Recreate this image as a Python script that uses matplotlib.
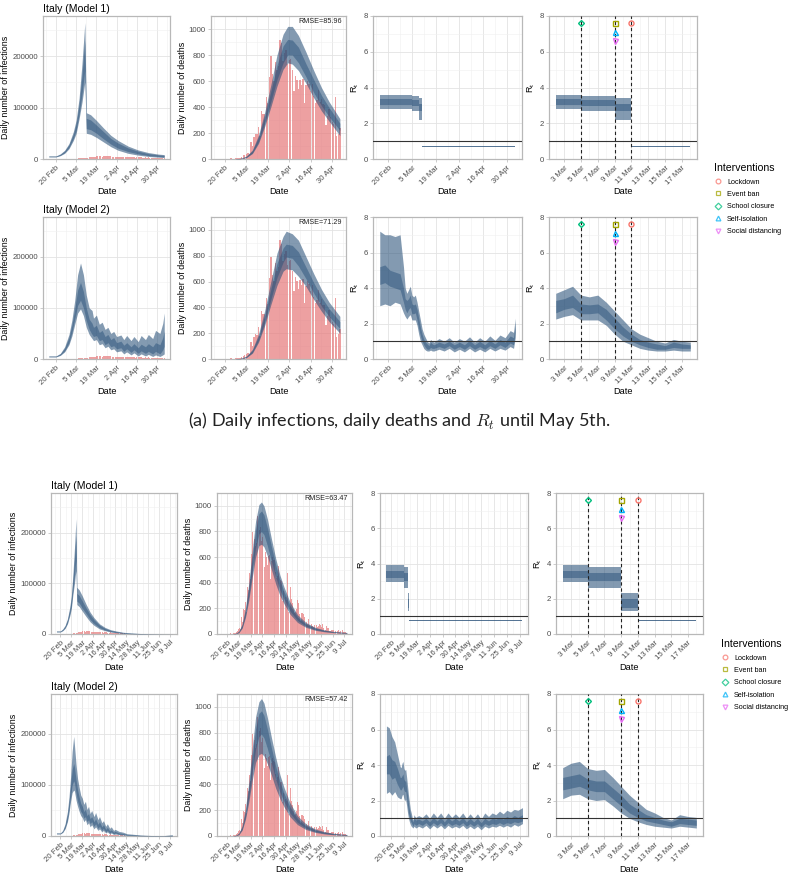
import numpy as np
import matplotlib
matplotlib.use("Agg")
import matplotlib.pyplot as plt
from matplotlib.lines import Line2D

plt.rcParams["font.family"] = ["Liberation Sans", "DejaVu Sans"]
plt.rcParams["mathtext.fontset"] = "cm"

W, H = 794, 873
BASE = np.datetime64("2020-02-15")

# ---------------- observed data (Italy) ----------------
OBS_START = "02-21"
CASES = [17, 62, 77, 74, 93, 131, 202, 233, 240,
         566, 342, 466, 587, 769, 778, 1247, 1492, 1797, 977, 2313, 2651, 2547, 3497, 3590, 3233,
         3526, 4207, 5322, 5986, 6557, 5560, 4789, 5249, 5210, 6153, 5959, 5974, 5217, 4050, 4053,
         4782, 4668, 4585, 4805, 4316, 3599, 3039, 3836, 4204, 3951, 4694, 4092, 3153, 2972, 2667,
         3786, 3493, 3491, 3047, 2256, 2729, 3370, 2646, 3021, 2357, 2324, 1739, 2091, 2086, 1872,
         1965, 1900, 1389, 1221, 1075, 1444, 1401, 1327, 1083, 802, 744, 1402, 888, 992, 789,
         875, 675, 451, 813, 665, 642, 652, 669, 531, 300, 397, 584, 593, 516, 416, 355,
         178, 318, 321, 177, 518, 270, 197, 280, 283, 202, 379, 163, 346, 338, 301,
         210, 329, 333, 251, 262, 224, 218, 122, 190, 296, 259, 175, 174, 126, 142,
         187, 201, 223, 235, 192, 208, 138, 193, 229, 276, 188, 234]
DEATHS = [1, 1, 1, 4, 3, 2, 5, 4, 8,
          5, 18, 27, 28, 41, 49, 36, 133, 97, 168, 196, 189, 250, 175, 368, 349,
          345, 475, 427, 627, 793, 651, 601, 743, 683, 712, 919, 889, 756, 812, 837,
          727, 760, 766, 681, 525, 636, 604, 542, 610, 570, 619, 431, 566, 602, 578,
          525, 575, 482, 433, 454, 534, 437, 464, 420, 415, 260, 333, 382, 323, 285,
          269, 474, 174, 195, 236, 369, 274, 243, 194, 165, 179, 172, 195, 262, 242,
          153, 145, 99, 162, 161, 156, 130, 119, 50, 92, 78, 117, 70, 87, 111, 75,
          60, 55, 71, 88, 85, 72, 53, 65, 79, 71, 53, 56, 78, 44, 26,
          34, 43, 66, 47, 49, 24, 23, 18, 30, 34, 30, 8, 24, 7, 23,
          21, 30, 15, 21, 7, 8, 30, 15, 12, 12, 7, 7]

# ---------------- block (a): fit until May 5 ----------------
# infections, model 1 (thousands)
INF1A_DATES = ["02-15", "02-20", "02-23", "02-26", "02-29", "03-03", "03-05", "03-07", "03-09",
               "03-10", "03-11", "03-12", "03-15", "03-19", "03-24", "03-29", "04-03", "04-10",
               "04-17", "04-24", "05-01", "05-05"]
INF1A_LO80 = [4, 4, 6.5, 11, 20, 36, 50, 78, 110, 130, 150, 50, 48, 42, 33, 24, 17, 11, 7.5, 5, 3.5, 2.8]
INF1A_LO50 = [4.5, 4.5, 7.2, 12.5, 22.5, 40, 56, 86, 125, 150, 172, 59, 57, 50, 39, 29, 21, 14.5, 10, 6.7, 5, 4.2]
INF1A_HI50 = [5.5, 5.5, 9, 15.5, 27.5, 48, 69, 106, 162, 197, 230, 79, 76, 66, 53, 40, 31, 21.5, 15, 10.5, 8, 7]
INF1A_HI80 = [6, 6, 10, 17, 30, 53, 76, 118, 185, 225, 265, 90, 86, 75, 60, 46, 36, 25, 17.5, 12.5, 9.5, 8.5]

# infections, model 2 (thousands)
INF2A_DATES = ["02-15", "02-20", "02-23", "02-26", "02-29", "03-02", "03-04", "03-06", "03-08",
               "03-10", "03-12", "03-14", "03-16", "03-17", "03-19", "03-21", "03-23", "03-25",
               "03-27", "03-29", "03-31", "04-02", "04-05", "04-07", "04-09", "04-12", "04-14",
               "04-17", "04-19", "04-22", "04-24", "04-27", "04-29", "05-02", "05-04", "05-05"]
INF2A_LO80 = [4, 4, 7, 14, 28, 45, 68, 90, 98, 85, 62, 48, 40, 36, 38, 28, 30, 22, 25, 18, 20,
              14, 16, 10, 14, 8, 12, 6, 10, 6, 9, 5, 8, 5, 8, 10]
INF2A_LO50 = [4.5, 4.5, 8, 16, 32, 52, 78, 105, 115, 100, 75, 58, 48, 44, 46, 36, 38, 28, 32, 24,
              26, 20, 22, 15, 20, 13, 18, 11, 16, 11, 15, 10, 15, 10, 18, 25]
INF2A_HI50 = [5.5, 5.5, 10, 21, 42, 66, 98, 135, 150, 132, 100, 78, 70, 62, 66, 52, 56, 44, 48,
              38, 42, 32, 35, 27, 32, 24, 30, 22, 29, 24, 30, 24, 32, 28, 42, 55]
INF2A_HI80 = [6, 6, 11, 24, 48, 76, 115, 165, 188, 165, 125, 100, 95, 80, 86, 68, 72, 58, 62, 50,
              54, 44, 47, 38, 46, 36, 44, 34, 46, 38, 48, 40, 56, 50, 70, 90]

# deaths, model 1
DTH1A_DATES = ["02-27", "03-01", "03-05", "03-09", "03-13", "03-17", "03-21", "03-25", "03-29",
               "04-01", "04-04", "04-08", "04-13", "04-18", "04-23", "04-28", "05-05"]
DTH1A_LO80 = [0.5, 2, 10, 42, 120, 250, 400, 560, 690, 740, 730, 680, 580, 470, 370, 290, 180]
DTH1A_LO50 = [0.8, 2.5, 12, 48, 133, 275, 440, 610, 740, 800, 800, 740, 630, 510, 410, 325, 220]
DTH1A_HI50 = [1.5, 4, 18, 62, 168, 330, 520, 720, 870, 920, 915, 860, 730, 610, 490, 395, 275]
DTH1A_HI80 = [2, 5, 22, 70, 185, 360, 570, 800, 960, 1020, 1020, 950, 820, 680, 550, 440, 310]

# deaths, model 2
DTH2A_DATES = ["02-27", "03-01", "03-05", "03-09", "03-13", "03-17", "03-21", "03-25", "03-29",
               "03-31", "04-04", "04-08", "04-13", "04-18", "04-23", "04-28", "05-05"]
DTH2A_LO80 = [0.5, 2, 10, 45, 130, 260, 420, 570, 680, 700, 690, 640, 560, 460, 370, 290, 200]
DTH2A_LO50 = [0.8, 2.5, 12, 52, 145, 285, 460, 630, 750, 790, 780, 720, 620, 510, 410, 330, 235]
DTH2A_HI50 = [1.5, 4, 18, 66, 175, 340, 540, 740, 860, 890, 880, 830, 710, 590, 480, 390, 290]
DTH2A_HI80 = [2, 5, 22, 75, 195, 375, 600, 820, 950, 990, 970, 920, 790, 660, 540, 440, 330]

# R_t, model 1 (piecewise constant)
RT1A_DATES = ["02-15", "03-02", "03-05", "03-09", "03-11", "03-18", "05-05"]
RT1A_LO80 = [2.8, 2.8, 2.7, 2.2, 0.66, 0.66, 0.66]
RT1A_LO50 = [3.0, 3.0, 2.95, 2.7, 0.68, 0.68, 0.68]
RT1A_HI50 = [3.35, 3.35, 3.3, 3.1, 0.72, 0.72, 0.72]
RT1A_HI80 = [3.6, 3.6, 3.5, 3.4, 0.74, 0.74, 0.74]

# R_t, model 2
RT2A_DATES = ["02-15", "02-18", "02-21", "02-24", "02-27", "02-29", "03-01",
              "03-02", "03-03", "03-04", "03-05", "03-06", "03-07", "03-08", "03-09", "03-10",
              "03-11", "03-12", "03-13", "03-14", "03-15", "03-16", "03-17", "03-18",
              "03-21", "03-24", "03-27", "03-30", "04-02", "04-05", "04-08", "04-11", "04-14",
              "04-17", "04-20", "04-23", "04-26", "04-29", "05-02", "05-04", "05-05"]
RT2A_LO80 = [3.0, 3.1, 3.0, 3.2, 3.1, 2.6, 2.4,
             2.25, 2.4, 2.5, 2.2, 2.2, 2.2, 1.9, 1.4, 1.0, 0.8, 0.6, 0.5, 0.45, 0.45, 0.5, 0.45, 0.45,
             0.55, 0.45, 0.6, 0.4, 0.55, 0.4, 0.6, 0.4, 0.55, 0.4, 0.6, 0.45, 0.6, 0.5, 0.7, 0.6, 1.2]
RT2A_LO50 = [4.2, 4.3, 4.1, 4.0, 3.9, 3.2, 2.8,
             2.6, 2.8, 2.9, 2.55, 2.55, 2.6, 2.2, 1.7, 1.3, 1.0, 0.8, 0.65, 0.55, 0.55, 0.65, 0.6, 0.6,
             0.7, 0.6, 0.75, 0.55, 0.7, 0.55, 0.75, 0.55, 0.7, 0.55, 0.75, 0.6, 0.8, 0.65, 0.9, 0.8, 1.5]
RT2A_HI50 = [5.2, 5.3, 5.0, 4.9, 4.8, 4.0, 3.4,
             3.3, 3.4, 3.6, 3.1, 3.05, 3.1, 2.8, 2.3, 1.8, 1.4, 1.1, 0.95, 0.85, 0.75, 0.95, 0.85, 0.8,
             0.95, 0.85, 1.0, 0.8, 0.95, 0.8, 1.05, 0.8, 1.0, 0.8, 1.05, 0.85, 1.1, 0.95, 1.3, 1.2, 2.0]
RT2A_HI80 = [7.2, 7.0, 7.0, 6.9, 7.0, 5.2, 4.0,
             3.7, 3.9, 4.1, 3.6, 3.5, 3.6, 3.2, 2.7, 2.2, 1.7, 1.4, 1.2, 1.0, 0.9, 1.1, 1.0, 0.95,
             1.15, 1.0, 1.2, 0.95, 1.15, 1.0, 1.25, 0.95, 1.2, 1.0, 1.3, 1.05, 1.35, 1.2, 1.6, 1.5, 2.3]

# ---------------- block (b): fit until July ----------------
INF1B_DATES = ["02-15", "02-20", "02-23", "02-26", "02-29", "03-03", "03-05", "03-07", "03-09",
               "03-10", "03-11", "03-12", "03-15", "03-19", "03-24", "03-29", "04-03", "04-10",
               "04-17", "04-24", "05-01", "05-10", "05-20", "06-01", "06-15", "07-01", "07-12"]
INF1B_LO80 = [4, 4, 6.5, 11, 20, 36, 50, 78, 100, 115, 125, 58, 54, 45, 34, 24, 17, 10, 6.5, 4, 2.5,
              1.3, 0.6, 0.3, 0.1, 0.05, 0.02]
INF1B_LO50 = [4.5, 4.5, 7.2, 12.5, 22.5, 40, 56, 86, 115, 133, 145, 65, 61, 51, 40, 28.5, 20.5, 12.5,
              8, 5, 3.2, 1.7, 0.9, 0.45, 0.18, 0.07, 0.03]
INF1B_HI50 = [5.5, 5.5, 9, 15.5, 27.5, 48, 69, 106, 150, 175, 195, 80, 76, 65, 51, 38, 28, 17.5,
              11, 7.2, 5, 2.8, 1.6, 0.8, 0.35, 0.14, 0.07]
INF1B_HI80 = [6, 6, 10, 17, 30, 53, 76, 118, 170, 200, 227, 92, 87, 75, 58, 43, 32, 20, 13, 8.5, 6,
              3.5, 2, 1, 0.5, 0.2, 0.1]

INF2B_DATES = ["02-15", "02-20", "02-23", "02-26", "02-29", "03-02", "03-04", "03-06", "03-08",
               "03-09", "03-11", "03-13", "03-15", "03-17", "03-19", "03-21", "03-23", "03-25",
               "03-27", "03-29", "03-31", "04-03", "04-05", "04-08", "04-10", "04-13", "04-15",
               "04-18", "04-20", "04-23", "04-25", "04-28", "04-30", "05-05", "05-10", "05-15",
               "05-22", "06-01", "06-15", "07-01", "07-12"]
INF2B_LO80 = [4, 4, 7, 14, 28, 45, 68, 85, 90, 88, 70, 58, 48, 40, 36, 28, 32, 22, 26, 18, 22, 14,
              18, 11, 14, 8, 11, 6, 8, 4, 6, 3, 4, 2.5, 2, 1.2, 0.8, 0.4, 0.2, 0.1, 0.2]
INF2B_LO50 = [4.5, 4.5, 8, 16, 32, 52, 78, 100, 108, 104, 84, 68, 58, 48, 44, 35, 38, 28, 32, 24,
              28, 19, 24, 15, 19, 11, 15, 8, 11, 6, 8, 4.5, 6, 3.5, 3, 1.8, 1.2, 0.7, 0.3, 0.2, 0.5]
INF2B_HI50 = [5.5, 5.5, 10, 21, 42, 66, 98, 130, 142, 135, 110, 90, 76, 64, 58, 48, 52, 40, 44, 34,
              38, 28, 34, 23, 28, 18, 22, 13, 17, 10, 12, 7.5, 9, 6, 5, 3, 2.2, 1.2, 0.6, 0.4, 1.2]
INF2B_HI80 = [6, 6, 11, 24, 48, 76, 115, 165, 195, 178, 140, 112, 95, 80, 74, 62, 68, 52, 58, 44,
              50, 38, 46, 32, 38, 26, 30, 19, 24, 15, 18, 11, 13, 9, 7.5, 4.5, 3.5, 2, 1, 0.8, 2.5]

DTH1B_DATES = ["02-27", "03-01", "03-05", "03-09", "03-13", "03-17", "03-21", "03-25", "03-29",
               "04-01", "04-04", "04-08", "04-13", "04-18", "04-23", "04-28", "05-05", "05-14",
               "05-24", "06-04", "06-15", "06-25", "07-05", "07-12"]
DTH1B_LO80 = [0.5, 2, 10, 45, 130, 265, 440, 600, 690, 700, 680, 610, 500, 390, 300, 235, 155, 90,
              52, 29, 17, 11, 7, 5.5]
DTH1B_LO50 = [0.8, 2.5, 12, 52, 148, 298, 490, 670, 780, 800, 775, 690, 565, 445, 345, 270, 180,
              106, 61, 35, 21, 14, 9, 7]
DTH1B_HI50 = [1.5, 4, 18, 68, 185, 365, 595, 810, 940, 960, 930, 830, 680, 540, 420, 330, 222, 133,
              79, 46, 28, 18.5, 13, 10]
DTH1B_HI80 = [2, 5, 22, 78, 205, 400, 650, 880, 1010, 1030, 1000, 900, 740, 590, 460, 365, 250,
              150, 90, 52, 32, 21, 15, 12]

DTH2B_DATES = ["02-27", "03-01", "03-05", "03-09", "03-13", "03-17", "03-21", "03-25", "03-29",
               "04-01", "04-04", "04-08", "04-13", "04-18", "04-23", "04-28", "05-05", "05-14",
               "05-24", "06-04", "06-15", "06-25", "07-05", "07-12"]
DTH2B_LO80 = [0.5, 2, 10, 45, 130, 265, 430, 570, 630, 640, 620, 560, 470, 370, 290, 225, 150, 88,
              50, 28, 16, 10, 6.5, 5]
DTH2B_LO50 = [0.8, 2.5, 12, 52, 150, 305, 500, 670, 770, 790, 760, 680, 560, 440, 340, 265, 178,
              105, 60, 34, 20, 13, 8.5, 6.5]
DTH2B_HI50 = [1.5, 4, 18, 68, 190, 375, 610, 830, 950, 970, 935, 830, 680, 540, 420, 330, 225, 135,
              80, 47, 29, 19, 13, 10]
DTH2B_HI80 = [2, 5, 22, 80, 215, 420, 680, 920, 1040, 1065, 1030, 920, 760, 610, 475, 375, 258, 156,
              94, 55, 34, 22, 15, 12]

RT1B_DATES = ["02-15", "03-02", "03-05", "03-09", "03-11", "03-18", "07-12"]
RT1B_LO80 = [2.95, 2.95, 2.6, 1.3, 0.72, 0.72, 0.72]
RT1B_LO50 = [3.2, 3.2, 3.0, 1.5, 0.74, 0.74, 0.74]
RT1B_HI50 = [3.6, 3.6, 3.45, 2.0, 0.78, 0.78, 0.78]
RT1B_HI80 = [3.9, 3.9, 3.8, 2.3, 0.8, 0.8, 0.8]

RT2B_DATES = ["02-15", "02-18", "02-21", "02-24", "02-27", "03-01",
              "03-02", "03-03", "03-04", "03-05", "03-06", "03-07", "03-08", "03-09", "03-10",
              "03-11", "03-12", "03-13", "03-14", "03-15", "03-16", "03-17", "03-18",
              "03-21", "03-25", "03-29", "04-02", "04-06", "04-10", "04-14", "04-18", "04-22",
              "04-26", "04-30", "05-04", "05-08", "05-12", "05-16", "05-20", "05-24", "05-28",
              "06-01", "06-05", "06-09", "06-13", "06-17", "06-21", "06-25", "06-29", "07-03",
              "07-07", "07-12"]
RT2B_LO80 = [2.4, 2.5, 2.3, 2.5, 2.2, 2.1,
             2.1, 2.3, 2.35, 2.1, 2.0, 2.05, 1.7, 1.3, 1.0, 0.8, 0.65, 0.55, 0.5, 0.45, 0.55, 0.5, 0.45,
             0.55, 0.45, 0.6, 0.4, 0.6, 0.45, 0.6, 0.4, 0.6, 0.45, 0.55, 0.45, 0.6, 0.4, 0.55, 0.4,
             0.55, 0.35, 0.55, 0.45, 0.55, 0.5, 0.6, 0.5, 0.6, 0.5, 0.65, 0.55, 0.7]
RT2B_LO50 = [3.5, 3.5, 3.2, 3.3, 2.9, 2.6,
             2.6, 2.7, 2.8, 2.6, 2.5, 2.5, 2.1, 1.7, 1.3, 1.05, 0.85, 0.75, 0.65, 0.55, 0.7, 0.65, 0.6,
             0.7, 0.6, 0.75, 0.55, 0.75, 0.6, 0.75, 0.55, 0.75, 0.6, 0.7, 0.6, 0.75, 0.55, 0.7, 0.55,
             0.7, 0.5, 0.7, 0.6, 0.7, 0.65, 0.75, 0.65, 0.75, 0.7, 0.8, 0.75, 0.85]
RT2B_HI50 = [4.5, 4.6, 4.3, 4.2, 3.8, 3.3,
             3.3, 3.4, 3.5, 3.2, 3.1, 3.1, 2.7, 2.3, 1.8, 1.5, 1.2, 1.05, 0.9, 0.8, 1.0, 0.95, 0.9,
             0.95, 0.85, 1.0, 0.8, 1.05, 0.85, 1.05, 0.8, 1.05, 0.85, 1.0, 0.85, 1.05, 0.8, 1.0, 0.8,
             1.0, 0.75, 1.0, 0.85, 1.0, 0.95, 1.05, 0.95, 1.1, 1.0, 1.15, 1.05, 1.2]
RT2B_HI80 = [6.2, 6.1, 5.6, 5.3, 4.6, 3.9,
             3.85, 4.1, 4.2, 3.8, 3.7, 3.75, 3.3, 2.8, 2.3, 1.9, 1.5, 1.3, 1.05, 0.9, 1.2, 1.1, 1.05,
             1.15, 1.05, 1.25, 1.0, 1.3, 1.05, 1.3, 1.0, 1.3, 1.05, 1.25, 1.05, 1.3, 1.0, 1.25, 1.0,
             1.25, 0.95, 1.3, 1.1, 1.3, 1.2, 1.4, 1.25, 1.45, 1.35, 1.5, 1.45, 1.6]

RMSE_LABELS = ["RMSE=85.96", "RMSE=71.29", "RMSE=63.47", "RMSE=57.42"]
ROW_TITLES = ["Italy (Model 1)", "Italy (Model 2)"]

# interventions
INTERVENTIONS = ["Lockdown", "Event ban", "School closure", "Self-isolation", "Social distancing"]
INTERVENTION_DATES = ["03-11", "03-09", "03-05", "03-09", "03-09"]
INTERVENTION_COLORS = ["#F8766D", "#A3A500", "#00BF7D", "#00B0F6", "#E76BF3"]
INTERVENTION_MARKERS = ["o", "s", "D", "^", "v"]
PLOT_ORDER = [2, 1, 3, 4, 0]   # stacking order of markers on the same date

TICKS_A = ["02-20", "03-05", "03-19", "04-02", "04-16", "04-30"]
TICKS_B = TICKS_A + ["05-14", "05-28", "06-11", "06-25", "07-09"]
TICKS_ZOOM = ["03-03", "03-05", "03-07", "03-09", "03-11", "03-13", "03-15", "03-17"]
MONTHS = {"02": "Feb", "03": "Mar", "04": "Apr", "05": "May", "06": "Jun", "07": "Jul"}

CAPTION = "(a) Daily infections, daily deaths and $R_t$ until May 5th."

BAND = "#2a527a"
BAR = "#e6787a"
GRID = "#e3e3e3"
BORDER = "#b8b8b8"
TXT = "#4d4d4d"


def days(dates):
    return np.array([(np.datetime64("2020-" + d) - BASE).astype(int) for d in dates], dtype=float)


def label(d):
    return f"{int(d[3:])} {MONTHS[d[:2]]}"


def rect(l, t, r, b):
    return [l / W, 1 - b / H, (r - l) / W, (b - t) / H]


def style(ax, ticks, xlim, ylim, yticks, ylabel, height_px):
    xt = days(ticks)
    half = (xt[1] - xt[0]) / 2
    ax.set_xticks(xt)
    ax.set_xticklabels([label(d) for d in ticks], rotation=45, ha="right", va="top",
                       rotation_mode="anchor")
    xm = np.arange(xt[0] - half, xlim[1], 2 * half)
    ax.set_xticks(xm[xm > xlim[0]], minor=True)
    ax.set_yticks(yticks)
    ax.set_yticklabels([str(v) for v in yticks])
    ystep = yticks[1] - yticks[0]
    ym = np.arange(yticks[0] + ystep / 2, ylim[1], ystep)
    ax.set_yticks(ym, minor=True)
    ax.set_xlim(*xlim)
    ax.set_ylim(*ylim)
    ax.grid(which="major", color=GRID, lw=0.6, zorder=0)
    ax.grid(which="minor", color="#f0f0f0", lw=0.4, zorder=0)
    ax.set_axisbelow(True)
    for s in ax.spines.values():
        s.set_color(BORDER)
        s.set_linewidth(0.9)
    ax.tick_params(which="major", length=2.2, width=0.5, color=BORDER, labelsize=5.6,
                   labelcolor=TXT, pad=1.5)
    ax.tick_params(which="minor", length=0)
    ax.set_xlabel("Date", fontsize=6.6, va="center")
    ax.xaxis.set_label_coords(0.5, -33.0 / height_px)
    ax.set_ylabel(ylabel, fontsize=6.4, labelpad=1.5)


def band(ax, dates, lo80, lo50, hi50, hi80, step=None, scale=1.0, mask=None):
    x = days(dates)
    arrs = [np.asarray(a, dtype=float) * scale for a in (lo80, lo50, hi50, hi80)]
    if mask is not None:
        keep = (x >= days([mask[0]])[0]) & (x <= days([mask[1]])[0])
        x = x[keep]
        arrs = [a[keep] for a in arrs]
    ax.fill_between(x, arrs[0], arrs[3], color=BAND, alpha=0.58, lw=0, step=step, zorder=3)
    ax.fill_between(x, arrs[1], arrs[2], color=BAND, alpha=0.5, lw=0, step=step, zorder=3)


def bars(ax, values, last):
    x = days([OBS_START])[0] + np.arange(len(values))
    v = np.asarray(values, dtype=float)
    keep = x <= days([last])[0]
    ax.bar(x[keep], v[keep], width=0.9, color=BAR, alpha=0.7, lw=0, zorder=2)


fig = plt.figure(figsize=(W / 100, H / 100), dpi=100)

blocks = [
    dict(rows=[(16, 159), (217, 359)], cols=[(43, 170), (211, 346), (373, 522), (549, 697)],
         xlim=(-4, 84), ticks=TICKS_A, last="05-05", legend=(709, 158),
         models=[
             (INF1A_DATES, INF1A_LO80, INF1A_LO50, INF1A_HI50, INF1A_HI80,
              DTH1A_DATES, DTH1A_LO80, DTH1A_LO50, DTH1A_HI50, DTH1A_HI80,
              RT1A_DATES, RT1A_LO80, RT1A_LO50, RT1A_HI50, RT1A_HI80, "post"),
             (INF2A_DATES, INF2A_LO80, INF2A_LO50, INF2A_HI50, INF2A_HI80,
              DTH2A_DATES, DTH2A_LO80, DTH2A_LO50, DTH2A_HI50, DTH2A_HI80,
              RT2A_DATES, RT2A_LO80, RT2A_LO50, RT2A_HI50, RT2A_HI80, None)]),
    dict(rows=[(493, 634), (694, 836)], cols=[(51, 177), (217, 352), (380, 528), (556, 703)],
         xlim=(-7, 154), ticks=TICKS_B, last="07-12", legend=(716, 634),
         models=[
             (INF1B_DATES, INF1B_LO80, INF1B_LO50, INF1B_HI50, INF1B_HI80,
              DTH1B_DATES, DTH1B_LO80, DTH1B_LO50, DTH1B_HI50, DTH1B_HI80,
              RT1B_DATES, RT1B_LO80, RT1B_LO50, RT1B_HI50, RT1B_HI80, "post"),
             (INF2B_DATES, INF2B_LO80, INF2B_LO50, INF2B_HI50, INF2B_HI80,
              DTH2B_DATES, DTH2B_LO80, DTH2B_LO50, DTH2B_HI50, DTH2B_HI80,
              RT2B_DATES, RT2B_LO80, RT2B_LO50, RT2B_HI50, RT2B_HI80, None)]),
]

rt_label = r"$\mathregular{R_t}$"
k = 0
for blk in blocks:
    for (top, bot), m in zip(blk["rows"], blk["models"]):
        c = blk["cols"]
        hp = bot - top
        # infections
        ax = fig.add_axes(rect(c[0][0], top, c[0][1], bot))
        bars(ax, CASES, blk["last"])
        band(ax, *m[0:5], scale=1000)
        style(ax, blk["ticks"], blk["xlim"], (0, 278000), [0, 100000, 200000],
              "Daily number of infections", hp)
        ax.set_title(ROW_TITLES[k % 2], loc="left", fontsize=7.6, pad=3)
        # deaths
        ax = fig.add_axes(rect(c[1][0], top, c[1][1], bot))
        bars(ax, DEATHS, blk["last"])
        band(ax, *m[5:10])
        style(ax, blk["ticks"], blk["xlim"], (0, 1100), [0, 200, 400, 600, 800, 1000],
              "Daily number of deaths", hp)
        ax.text(0.97, 0.985, RMSE_LABELS[k], transform=ax.transAxes, ha="right", va="top",
                fontsize=5.2, color="#222222")
        # Rt full range
        ax = fig.add_axes(rect(c[2][0], top, c[2][1], bot))
        band(ax, *m[10:15], step=m[15])
        ax.axhline(1, color="#333333", lw=0.8, zorder=4)
        style(ax, blk["ticks"], blk["xlim"], (0, 8), [0, 2, 4, 6, 8], rt_label, hp)
        # Rt zoom with interventions
        ax = fig.add_axes(rect(c[3][0], top, c[3][1], bot))
        band(ax, *m[10:15], step=m[15], mask=("03-02", "03-18"))
        ax.axhline(1, color="#333333", lw=0.8, zorder=4)
        for d in sorted(set(INTERVENTION_DATES)):
            ax.axvline(days([d])[0], color="#222222", lw=0.8, ls=(0, (3, 2.5)), zorder=4)
        seen = {}
        for i in PLOT_ORDER:
            d = INTERVENTION_DATES[i]
            n = seen.get(d, 0)
            seen[d] = n + 1
            ax.plot(days([d])[0], 7.6 - 0.5 * n, marker=INTERVENTION_MARKERS[i],
                    ms=3.0 if INTERVENTION_MARKERS[i] == "D" else 3.6,
                    mfc="none", mec=INTERVENTION_COLORS[i], mew=1.0, zorder=5)
        style(ax, TICKS_ZOOM, (15.2, 32.8), (0, 8), [0, 2, 4, 6, 8], rt_label, hp)
        k += 1

    handles = [Line2D([], [], ls="", marker=mk, ms=3.4, mfc="none", mec=col, mew=0.9, alpha=0.75)
               for mk, col in zip(INTERVENTION_MARKERS, INTERVENTION_COLORS)]
    lx, ly = blk["legend"]
    leg = fig.legend(handles, INTERVENTIONS, loc="upper left",
                     bbox_to_anchor=(lx / W, 1 - ly / H), frameon=False,
                     title="Interventions", fontsize=5.2, title_fontsize=7.6,
                     handletextpad=0.6, labelspacing=0.75, handlelength=1.2, borderpad=0.2)
    leg._legend_box.align = "left"

fig.text(399 / W, 1 - 421 / H, CAPTION, ha="center", va="center", fontsize=13,
         family=["Lato", "DejaVu Sans"], color="#222222")

fig.savefig("out.png", dpi=100)
